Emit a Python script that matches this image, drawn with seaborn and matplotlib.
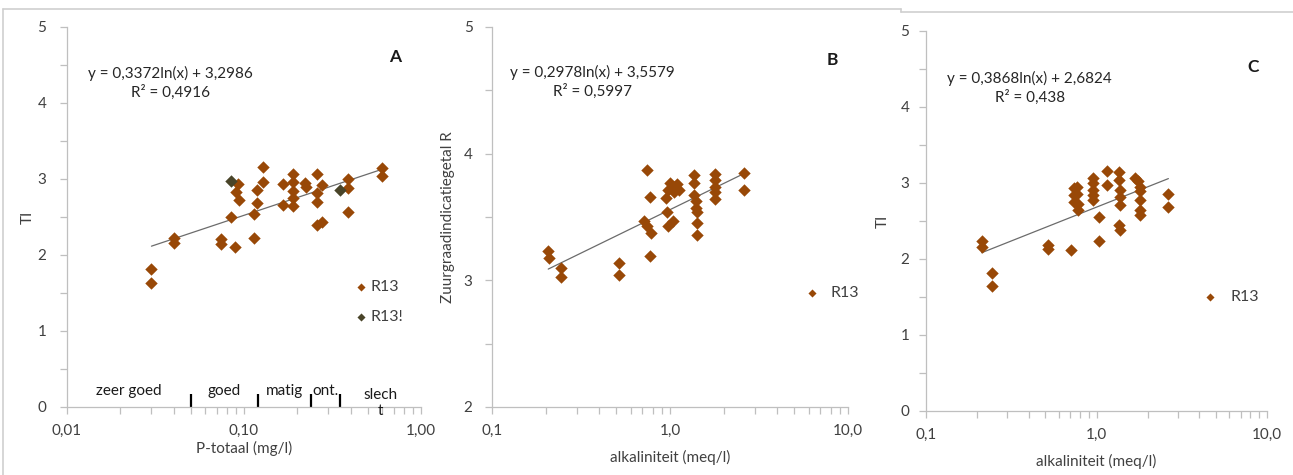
import numpy as np
import pandas as pd
import matplotlib
matplotlib.use("Agg")
import matplotlib.pyplot as plt
import seaborn as sns
from matplotlib.ticker import MultipleLocator, LogLocator, NullFormatter
from matplotlib.lines import Line2D

# ---------------- data ----------------
# Panel A: P-totaal (mg/l) vs TI
a_r13_x = [0.030, 0.030, 0.040, 0.040, 0.074, 0.074, 0.089, 0.084, 0.093, 0.090, 0.094,
           0.128, 0.128, 0.118, 0.118, 0.114, 0.114, 0.167, 0.167,
           0.188, 0.188, 0.188, 0.188, 0.188, 0.221, 0.224,
           0.258, 0.275, 0.258, 0.258, 0.258, 0.275, 0.388, 0.388, 0.388, 0.60, 0.60]
a_r13_y = [1.81, 1.63, 2.23, 2.16, 2.21, 2.14, 2.11, 2.50, 2.93, 2.83, 2.72,
           3.16, 2.96, 2.85, 2.69, 2.54, 2.23, 2.93, 2.66,
           3.06, 2.96, 2.84, 2.75, 2.64, 2.95, 2.90,
           3.06, 2.92, 2.82, 2.70, 2.39, 2.44, 3.00, 2.88, 2.57, 3.15, 3.04]
a_r13x_x = [0.084, 0.348]
a_r13x_y = [2.97, 2.86]
a_coef = (0.3372, 3.2986)
a_eq = "y = 0,3372ln(x) + 3,2986"
a_r2 = "R² = 0,4916"
a_class_edges = [0.01, 0.05, 0.12, 0.24, 0.35, 1.0]
a_class_marks = [0.05, 0.12, 0.24, 0.35]
a_class_labels = ["zeer goed", "goed", "matig", "ont.", "slech\nt"]

# Panel B: alkaliniteit (meq/l) vs Zuurgraadindicatiegetal R
b_x = [0.207, 0.210, 0.245, 0.245, 0.515, 0.515, 0.738, 0.776, 0.71, 0.74, 0.78, 0.77,
       0.95, 0.97, 1.00, 1.05, 1.10, 1.13, 1.05, 0.96, 0.97, 1.04,
       1.36, 1.36, 1.36, 1.40, 1.40, 1.41, 1.41, 1.41,
       1.80, 1.80, 1.80, 1.78, 1.80, 2.61, 2.61]
b_y = [3.23, 3.18, 3.10, 3.03, 3.14, 3.04, 3.87, 3.66, 3.47, 3.43, 3.37, 3.19,
       3.65, 3.71, 3.77, 3.74, 3.76, 3.71, 3.70, 3.54, 3.43, 3.47,
       3.83, 3.77, 3.67, 3.63, 3.57, 3.54, 3.45, 3.36,
       3.84, 3.79, 3.74, 3.70, 3.64, 3.85, 3.71]
b_coef = (0.2978, 3.5579)
b_eq = "y = 0,2978ln(x) + 3,5579"
b_r2 = "R² = 0,5997"

# Panel C: alkaliniteit (meq/l) vs TI
c_x = [0.212, 0.212, 0.245, 0.245, 0.52, 0.52, 0.71,
       0.74, 0.77, 0.74, 0.77, 0.74, 0.78, 0.78,
       0.95, 0.96, 0.95, 0.96, 0.95, 1.04, 1.04, 1.15, 1.15,
       1.36, 1.36, 1.37, 1.38, 1.38, 1.35, 1.38,
       1.68, 1.75, 1.80, 1.80, 1.80, 1.80, 1.80, 2.64, 2.64]
c_y = [2.24, 2.16, 1.81, 1.64, 2.18, 2.13, 2.12,
       2.93, 2.95, 2.84, 2.86, 2.75, 2.73, 2.64,
       3.06, 3.00, 2.91, 2.84, 2.78, 2.55, 2.24, 3.16, 2.97,
       3.15, 3.04, 2.91, 2.82, 2.71, 2.45, 2.38,
       3.06, 3.02, 2.95, 2.89, 2.78, 2.64, 2.58, 2.85, 2.68]
c_coef = (0.3868, 2.6824)
c_eq = "y = 0,3868ln(x) + 2,6824"
c_r2 = "R² = 0,438"

# ---------------- style ----------------
sns.set_theme(style="white")
plt.rcParams["font.family"] = ["Lato", "DejaVu Sans"]

BROWN = "#984807"
DARK = "#494429"
GRID = "#BFBFBF"
TXT = "#404040"
W, H = 1293, 475
FS = 11

fig = plt.figure(figsize=(W / 100, H / 100), dpi=100)


def make_ax(left, right, top, bottom):
    return fig.add_axes([left / W, 1 - bottom / H, (right - left) / W, (bottom - top) / H])


def style_ax(ax, xlim, ylim, xticks, xlabels, ymajor, xlabel, ylabel, ypad, ylabpad, xlabpad):
    ax.set_xscale("log")
    ax.set_xlim(*xlim)
    ax.set_ylim(*ylim)
    ax.set_xticks(xticks, xlabels)
    ax.xaxis.set_minor_locator(LogLocator(base=10, subs=np.arange(2, 10)))
    ax.xaxis.set_minor_formatter(NullFormatter())
    ax.yaxis.set_major_locator(MultipleLocator(ymajor))
    ax.yaxis.set_minor_locator(MultipleLocator(0.5))
    for s in ["top", "right"]:
        ax.spines[s].set_visible(False)
    for s in ["left", "bottom"]:
        ax.spines[s].set_color(GRID)
        ax.spines[s].set_linewidth(0.9)
    ax.tick_params(axis="both", which="both", direction="out", color=GRID,
                   length=5, width=0.9, labelsize=FS, labelcolor=TXT,
                   bottom=True, left=True)
    ax.tick_params(axis="y", which="major", pad=ypad)
    ax.tick_params(axis="x", which="major", pad=7)
    ax.set_xlabel(xlabel, fontsize=FS, color=TXT, labelpad=xlabpad)
    ax.set_ylabel(ylabel, fontsize=FS, color=TXT, labelpad=ylabpad)
    ax.set_facecolor("white")


def trend(ax, xs, coef):
    xf = np.array([min(xs), max(xs)])
    yf = coef[0] * np.log(xf) + coef[1]
    sns.lineplot(x=xf, y=yf, color="#6b6b6b", linewidth=0.9, ax=ax, legend=False)


def points(ax, xs, ys, color, label):
    sns.scatterplot(x=xs, y=ys, color=color, marker="D", s=40, linewidth=0,
                    label=label, ax=ax, legend=False, zorder=3)


def eqtext(ax, fx, fy, eq, r2):
    ax.text(fx, fy, eq + "\n" + r2, transform=ax.transAxes, ha="center",
            va="center", multialignment="center", fontsize=11, color="#262626",
            linespacing=1.3)


def letter(ax, fx, fy, s):
    ax.text(fx, fy, s, transform=ax.transAxes, ha="center", va="center",
            fontsize=12.5, fontweight="bold", color="#1a1a1a")


def legend(ax, fx, fy, pad):
    leg = ax.legend(loc="center left", bbox_to_anchor=(fx, fy), frameon=False,
                    borderaxespad=0, handlelength=0.8, handletextpad=pad, labelspacing=1.0,
                    fontsize=11.5, markerscale=0.65)
    for t in leg.get_texts():
        t.set_color(TXT)


# Panel A
axA = make_ax(67, 421, 27, 407)
style_ax(axA, (0.01, 1.0), (0, 5), [0.01, 0.1, 1.0], ["0,01", "0,10", "1,00"], 1,
         "P-totaal (mg/l)", "TI", 10, 2, 2)
points(axA, a_r13_x, a_r13_y, BROWN, "R13")
points(axA, a_r13x_x, a_r13x_y, DARK, "R13!")
trend(axA, a_r13_x + a_r13x_x, a_coef)
eqtext(axA, 0.291, 0.853, a_eq, a_r2)
letter(axA, 0.927, 0.921, "A")
axA.vlines(a_class_marks, 0, 0.17, color="black", linewidth=1.6)
edges = np.array(a_class_edges)
centers = np.sqrt(edges[:-1] * edges[1:])
line_h = 0.265  # one text line in data units
for cx, lab in zip(centers, a_class_labels):
    nlines = lab.count("\n")
    axA.text(cx, 0.16 - nlines * line_h, lab, ha="center", va="baseline", fontsize=FS,
             color="#1a1a1a", linespacing=1.2)
legend(axA, 0.794, 0.276, 0.2)

# Panel B
axB = make_ax(492, 848, 27, 407)
style_ax(axB, (0.1, 10.0), (2, 5), [0.1, 1.0, 10.0], ["0,1", "1,0", "10,0"], 1,
         "alkaliniteit (meq/l)", "Zuurgraadindicatiegetal R", 9, 6, 9)
points(axB, b_x, b_y, BROWN, "R13")
trend(axB, b_x, b_coef)
eqtext(axB, 0.281, 0.855, b_eq, b_r2)
letter(axB, 0.955, 0.913, "B")
legend(axB, 0.8635, 0.30, 0.75)

# Panel C
axC = make_ax(926, 1267, 31, 411)
style_ax(axC, (0.1, 10.0), (0, 5), [0.1, 1.0, 10.0], ["0,1", "1,0", "10,0"], 1,
         "alkaliniteit (meq/l)", "TI", 7, 8, 9)
points(axC, c_x, c_y, BROWN, "R13")
trend(axC, c_x, c_coef)
eqtext(axC, 0.304, 0.850, c_eq, c_r2)
letter(axC, 0.959, 0.905, "C")
legend(axC, 0.795, 0.30, 0.9)


# chart-area frame lines (screenshot borders)
def fline(xs, ys):
    fig.add_artist(Line2D([x / W for x in xs], [1 - y / H for y in ys],
                          transform=fig.transFigure, color="#CFCFCF", linewidth=1.2))


fline([3, 901], [9, 9])
fline([901, 901], [9, 12])
fline([901, 1293], [12, 12])
fline([3, 3], [9, 475])

fig.savefig("out.png", dpi=100, facecolor="white")
